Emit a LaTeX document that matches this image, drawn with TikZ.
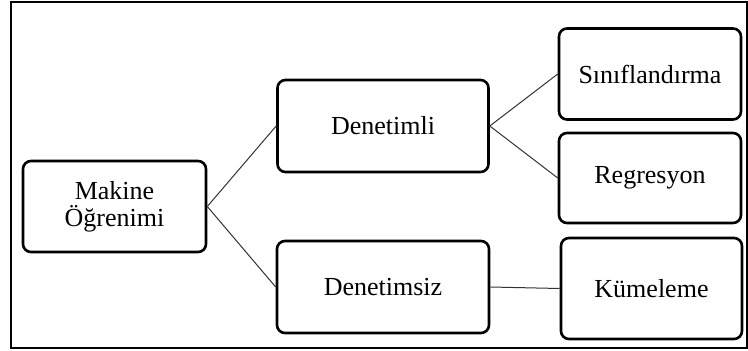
\documentclass[tikz,border=0pt]{standalone}
\usepackage{fontspec}
\setmainfont{Liberation Serif}
\begin{document}
\begin{tikzpicture}[x=1pt,y=-1pt,
  box/.style={draw=black, line width=2.6pt, rounded corners=8pt, fill=white,
    align=center, inner sep=0pt, font=\fontsize{26}{27}\selectfont},
  link/.style={draw=black!80, line width=1pt}]
\useasboundingbox (0,0) rectangle (748,351);
% outer frame
\draw[line width=1.6pt] (11,2) rectangle (747,348);
% boxes
\node[box, minimum width=183pt, minimum height=91pt] (ml) at (114.5,206.5) {Makine\\Öğrenimi};
\node[box, minimum width=211pt, minimum height=92pt] (sup) at (383,126) {Denetimli};
\node[box, minimum width=212pt, minimum height=92pt] (unsup) at (383,287) {Denetimsiz};
\node[box, minimum width=182pt, minimum height=91pt] (cls) at (650,74) {Sınıflandırma};
\node[box, minimum width=182pt, minimum height=90pt] (reg) at (650,178) {Regresyon};
\node[box, minimum width=181pt, minimum height=101pt] (clu) at (651.5,288.5) {Kümeleme};
% connectors
\draw[link] (ml.east) -- (sup.west);
\draw[link] (ml.east) -- (unsup.west);
\draw[link] (sup.east) -- (cls.west);
\draw[link] (sup.east) -- (reg.west);
\draw[link] (unsup.east) -- (clu.west);
\end{tikzpicture}
\end{document}
